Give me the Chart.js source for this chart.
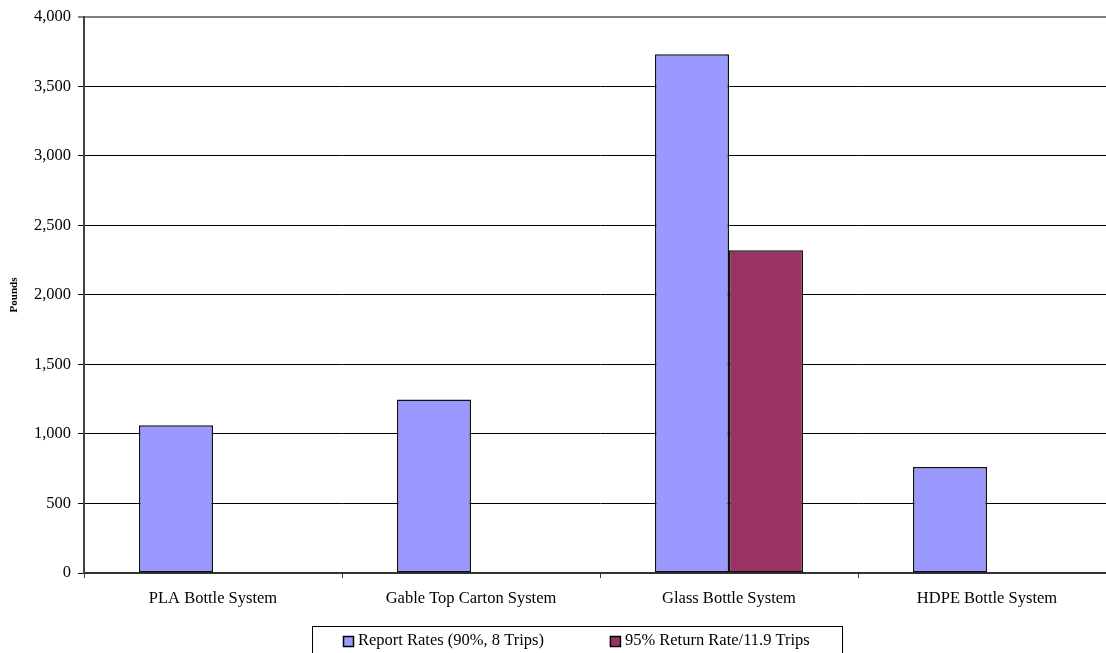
<!DOCTYPE html>
<html>
<head>
<meta charset="utf-8">
<script src="https://cdn.jsdelivr.net/npm/chart.js@4.4.1/dist/chart.umd.min.js"></script>
<style>
  html, body { margin: 0; padding: 0; background: #fff; overflow: hidden; }
  #wrap { width: 1106px; height: 653px; overflow: hidden; }
  canvas { display: block; }
</style>
</head>
<body>
<div id="wrap"><canvas id="c" width="1120" height="653"></canvas></div>
<script>
// Packaging systems compared
const categories = ['PLA Bottle System', 'Gable Top Carton System', 'Glass Bottle System', 'HDPE Bottle System'];
// Pounds per system under each scenario
const reportRates = [1062, 1248, 3732, 763];
const returnRate95 = [null, null, 2322, null];
const seriesLabels = ['Report Rates (90%, 8 Trips)', '95% Return Rate/11.9 Trips'];
const seriesColors = ['#9999FF', '#993366'];
const yTicks = { min: 0, max: 4000, step: 500 };

const FONT = '"Liberation Serif", "Times New Roman", serif';

// Boxed legend under the plot
const boxedLegend = {
  id: 'boxedLegend',
  afterDraw(chart) {
    const ctx = chart.ctx;
    ctx.save();
    ctx.font = '16.5px ' + FONT;
    ctx.textBaseline = 'middle';
    ctx.lineWidth = 1;
    ctx.strokeStyle = '#000';
    ctx.strokeRect(312.5, 626.5, 530, 40);
    let x = 343;
    const y = 641;
    chart.data.datasets.forEach((ds) => {
      ctx.fillStyle = ds.backgroundColor;
      ctx.fillRect(x, y - 5, 10, 10);
      ctx.strokeStyle = '#000';
      ctx.lineWidth = 1.5;
      ctx.strokeRect(x + 0.5, y - 5 + 0.5, 10, 10);
      ctx.fillStyle = '#000';
      ctx.fillText(ds.label, x + 15, y);
      x += 15 + ctx.measureText(ds.label).width + 66;
    });
    ctx.restore();
  }
};

new Chart(document.getElementById('c'), {
  type: 'bar',
  data: {
    labels: categories,
    datasets: [
      {
        label: seriesLabels[0],
        data: reportRates,
        backgroundColor: seriesColors[0],
        borderColor: '#111',
        borderWidth: 1.5,
        borderSkipped: false
      },
      {
        label: seriesLabels[1],
        data: returnRate95,
        backgroundColor: seriesColors[1],
        borderColor: '#111',
        borderWidth: 1.5,
        borderSkipped: false
      }
    ]
  },
  plugins: [boxedLegend],
  options: {
    responsive: false,
    animation: false,
    devicePixelRatio: 1,
    categoryPercentage: 0.574,
    barPercentage: 1,
    layout: { padding: { left: 0, right: 4, top: 16, bottom: 0 } },
    plugins: {
      legend: { display: false },
      tooltip: { enabled: false }
    },
    scales: {
      x: {
        grid: {
          offset: true,
          drawOnChartArea: false,
          drawTicks: true,
          tickLength: 5,
          tickColor: '#333',
          tickWidth: 1
        },
        border: { display: true, color: '#333', width: 2 },
        ticks: {
          color: '#000',
          padding: 11,
          maxRotation: 0,
          autoSkip: false,
          font: { family: FONT, size: 16.5 }
        },
        afterFit(scale) { scale.height = 80; }
      },
      y: {
        min: yTicks.min,
        max: yTicks.max,
        grid: {
          color: (c) => (c.tick && c.tick.value === yTicks.max ? '#808080' : '#000'),
          lineWidth: (c) => (c.tick && c.tick.value === yTicks.max ? 2 : 1),
          tickColor: (c) => (c.tick && c.tick.value === yTicks.max ? '#808080' : '#000'),
          drawTicks: true,
          tickLength: 6
        },
        border: { display: true, color: '#444', width: 2 },
        ticks: {
          stepSize: yTicks.step,
          color: '#000',
          padding: 7,
          font: { family: FONT, size: 16.5 },
          callback: (v) => Number(v).toLocaleString('en-US')
        },
        title: {
          display: true,
          text: 'Pounds',
          color: '#000',
          padding: { top: 8, bottom: 0 },
          font: { family: FONT, size: 11, weight: 'bold' }
        },
        afterFit(scale) { scale.width = 84; }
      }
    }
  }
});
</script>
</body>
</html>
